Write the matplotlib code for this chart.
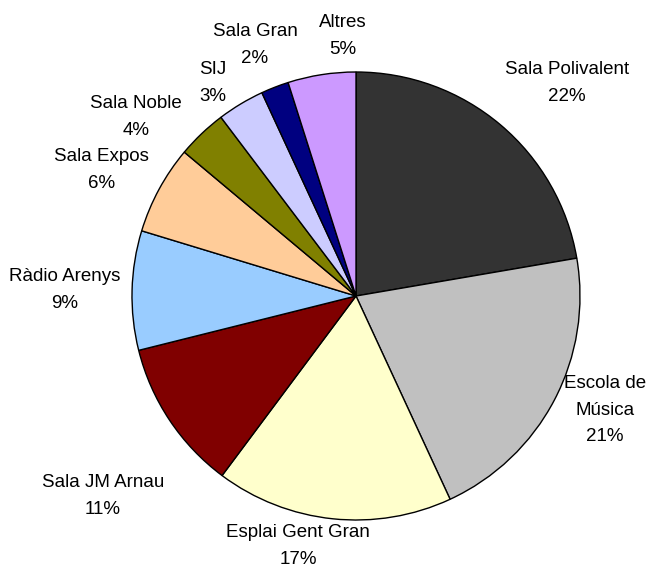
import matplotlib
matplotlib.use('Agg')
from matplotlib import pyplot as plt

# Data (percent of total)
categories = ['Sala Polivalent', 'Escola de\nMúsica', 'Esplai Gent Gran', 'Sala JM Arnau',
              'Ràdio Arenys', 'Sala Expos', 'Sala Noble', 'SIJ', 'Sala Gran', 'Altres']
shares = [22.3, 20.8, 17.1, 10.9, 8.6, 6.4, 3.6, 3.4, 2.0, 4.9]
colors = ['#333333', '#C0C0C0', '#FFFFCC', '#800000', '#99CCFF',
          '#FFCC99', '#808000', '#CCCCFF', '#000080', '#CC99FF']

# label centres, in units of the pie radius (layout only)
label_pos = [(0.942, 0.951), (1.112, -0.509), (-0.259, -1.116), (-1.129, -0.893),
             (-1.299, 0.027), (-1.138, 0.562), (-0.982, 0.799), (-0.638, 0.951),
             (-0.451, 1.121), (-0.058, 1.161)]

W, H = 647, 572
cx, cy, r = 356, 296, 224

plt.rcParams['font.family'] = ['Liberation Sans Narrow', 'Liberation Sans', 'DejaVu Sans']

fig = plt.figure(figsize=(W / 100, H / 100), dpi=100, facecolor='white')
ax = fig.add_axes([0, 0, 1, 1])

ax.pie(shares, colors=colors, startangle=90, counterclock=False, radius=1,
       wedgeprops={'edgecolor': 'black', 'linewidth': 1.0})

total = sum(shares)
for name, val, (lx, ly) in zip(categories, shares, label_pos):
    ax.text(lx, ly, '%s\n%.0f%%' % (name, val / total * 100),
            ha='center', va='center', fontsize=13.5, linespacing=1.75, color='black')

ax.set_xlim(-cx / r, (W - cx) / r)
ax.set_ylim(-(H - cy) / r, cy / r)
ax.set_aspect('equal')
ax.axis('off')

fig.savefig('out.png', dpi=100)
